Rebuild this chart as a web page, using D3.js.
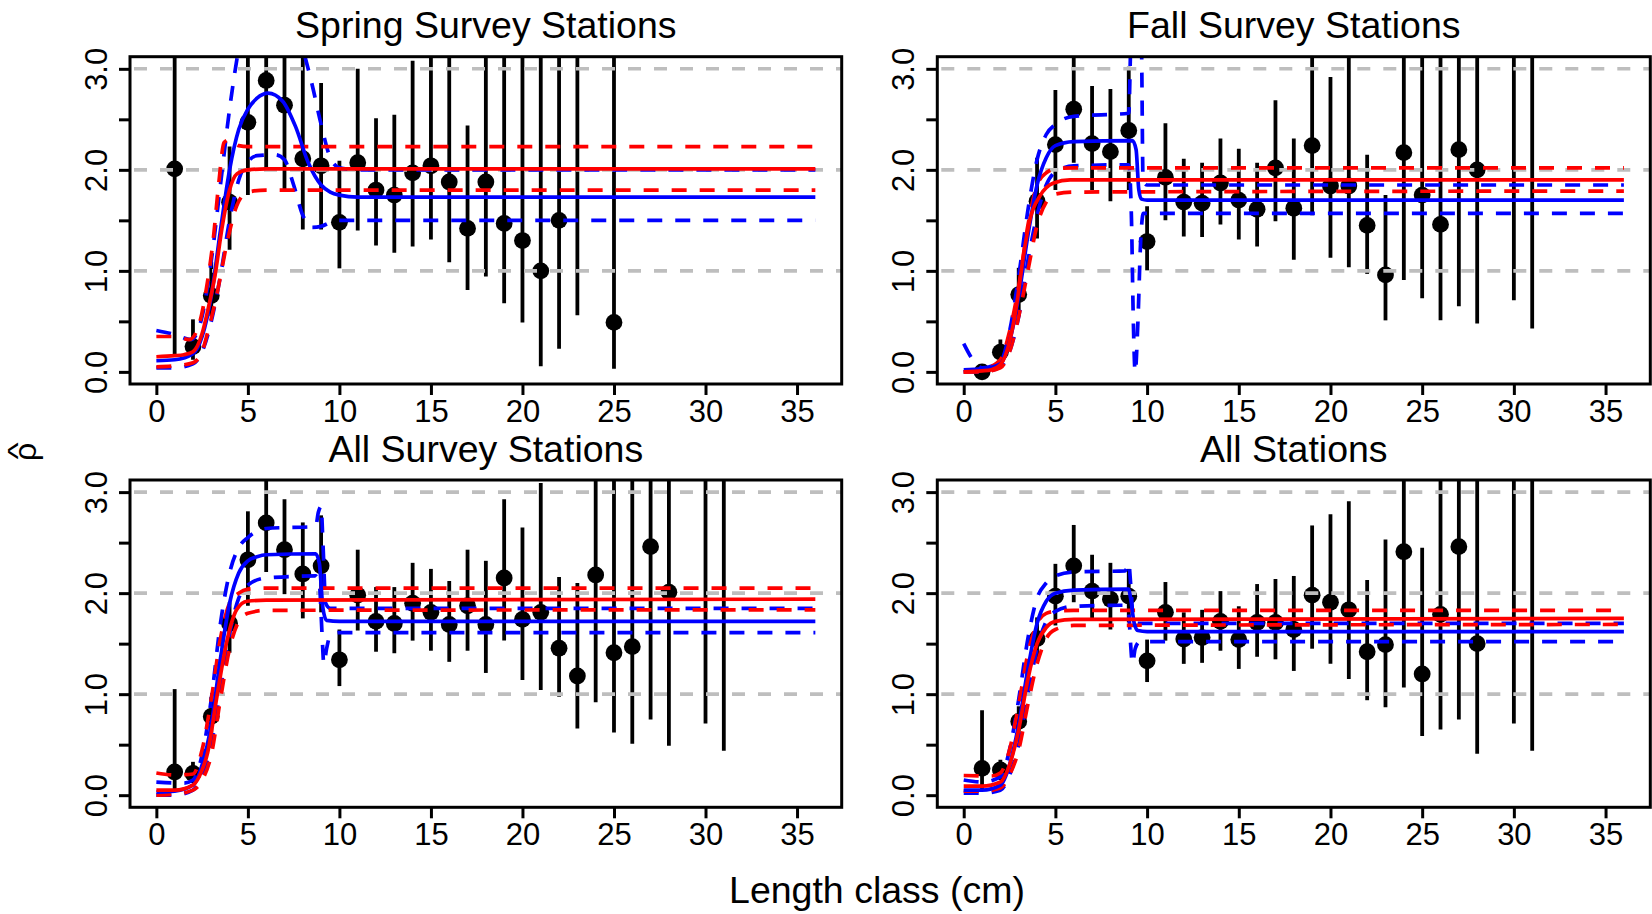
<!DOCTYPE html>
<html><head><meta charset="utf-8">
<script src="https://cdnjs.cloudflare.com/ajax/libs/d3/7.8.5/d3.min.js"></script>
<style>
body{margin:0;background:#fff}
text{font-family:"Liberation Sans",Arial,Helvetica,sans-serif;fill:#000}
</style>
</head><body>
<svg id="chart" width="1652" height="914"></svg>
<script>
// ---------------- DATA ----------------
const panelTitles = ["Spring Survey Stations", "Fall Survey Stations", "All Survey Stations", "All Stations"];
const xTickValues = [0, 5, 10, 15, 20, 25, 30, 35];
const yTickValues = [0, 0.5, 1, 1.5, 2, 2.5, 3];
const yTickLabels = ["0.0", "", "1.0", "", "2.0", "", "3.0"];
const gridValues = [1, 2, 3];
const xLabel = "Length class (cm)";
const yLabel = "ρ";
const yLabelHat = "^";

// Spring survey stations: length class, estimate, lower CI, upper CI
const springClass = [1,2,3,4,5,6,7,8,9,10,11,12,13,14,15,16,17,18,19,20,21,22,23,25];
const springRho   = [2.01,0.25,0.755,1.68,2.47,2.885,2.64,2.11,2.04,1.48,2.07,1.80,1.75,1.97,2.04,1.88,1.42,1.88,1.47,1.30,1.00,1.50,3.40,0.49];
const springLo    = [0.17,0.12,0.55,1.21,1.75,2.0,1.81,1.41,1.41,1.025,1.40,1.25,1.18,1.24,1.31,1.085,0.81,0.945,0.68,0.49,0.056,0.23,0.56,0.03];
const springHi    = [3.6,0.52,1.09,2.23,3.6,3.6,3.6,3.6,2.86,2.09,3.0,2.51,2.545,3.08,3.6,3.6,2.44,3.6,3.6,3.6,3.6,3.6,3.6,3.6];

// Fall survey stations
const fallClass = [1,2,3,4,5,6,7,8,9,10,11,12,13,14,15,16,17,18,19,20,21,22,23,24,25,26,27,28,30,31];
const fallRho   = [0.0,0.195,0.765,1.69,2.25,2.60,2.26,2.18,2.39,1.29,1.925,1.68,1.67,1.87,1.70,1.61,2.02,1.62,2.24,1.84,1.84,1.45,0.96,2.17,1.75,1.46,2.20,2.00,3.40,3.40];
const fallLo    = [0.0,0.08,0.55,1.32,1.80,2.07,1.80,1.69,1.80,1.005,1.50,1.34,1.335,1.46,1.31,1.24,1.49,1.11,1.55,1.13,1.035,0.97,0.51,0.91,0.73,0.51,0.65,0.48,0.71,0.43];
const fallHi    = [0.03,0.32,1.03,2.12,2.79,3.6,2.83,2.80,3.02,1.64,2.46,2.11,2.07,2.31,2.21,2.07,2.69,2.31,3.6,2.92,3.6,2.15,1.75,3.6,3.6,3.6,3.6,3.6,3.6,3.6];

// All survey stations
const allSurveyClass = [1,2,3,4,5,6,7,8,9,10,11,12,13,14,15,16,17,18,19,20,21,22,23,24,25,26,27,28,30,31];
const allSurveyRho   = [0.23,0.215,0.78,1.70,2.33,2.695,2.43,2.19,2.27,1.34,1.98,1.72,1.70,1.90,1.81,1.69,1.875,1.69,2.15,1.74,1.81,1.455,1.18,2.18,1.41,1.47,2.46,2.01,3.40,3.40];
const allSurveyLo    = [0.05,0.12,0.60,1.41,1.875,2.21,1.99,1.75,1.81,1.08,1.63,1.42,1.405,1.53,1.43,1.32,1.43,1.21,1.53,1.14,1.04,0.975,0.66,0.92,0.62,0.51,0.75,0.49,0.71,0.44];
const allSurveyHi    = [1.05,0.33,0.97,1.91,2.81,3.6,2.93,2.70,2.77,1.64,2.43,2.06,2.06,2.30,2.24,2.12,2.43,2.32,2.93,2.65,3.09,2.16,2.10,3.6,3.6,3.6,3.6,3.6,3.6,3.6];

// All stations
const allClass = [1,2,3,4,5,6,7,8,9,10,11,12,13,14,15,16,17,18,19,20,21,22,23,24,25,26,27,28,30,31];
const allRho   = [0.265,0.25,0.73,1.55,1.97,2.27,2.02,1.94,1.97,1.33,1.81,1.545,1.56,1.72,1.54,1.71,1.71,1.64,1.98,1.91,1.835,1.42,1.49,2.41,1.20,1.79,2.46,1.50,3.40,3.40];
const allLo    = [0.05,0.15,0.55,1.33,1.68,1.91,1.73,1.64,1.71,1.12,1.53,1.30,1.31,1.43,1.25,1.37,1.345,1.23,1.45,1.30,1.15,0.94,0.87,1.065,0.585,0.65,0.75,0.41,0.71,0.44];
const allHi    = [0.84,0.35,0.88,1.76,2.29,2.675,2.38,2.30,2.24,1.54,2.11,1.81,1.835,2.02,1.87,2.09,2.14,2.17,2.67,2.78,2.91,2.13,2.53,3.6,2.45,3.6,3.6,3.6,3.6,3.6];

// Fitted curves [length, rho] : blue = step model, red = logistic model
const springBlueFit = [[0,0.11],[1,0.12],[2,0.18],[2.5,0.35],[3,0.75],[3.5,1.4],[4,2.0],[4.5,2.4],[5,2.6],[5.5,2.71],[6.1,2.76],[6.9,2.68],[7.6,2.43],[8.3,2.07],[9,1.85],[9.5,1.78],[10,1.75],[11,1.73],[36,1.73]];
const springBlueUp  = [[0,0.41],[1,0.37],[1.9,0.32],[2.5,0.55],[3,1.1],[3.5,1.85],[4,2.6],[4.5,3.2],[5,3.6],[6,3.9],[7,3.8],[8,3.2],[8.5,2.85],[9,2.45],[9.5,2.12],[10,2.02],[11,2.0],[36,2.0]];
const springBlueLo  = [[0,0.04],[1,0.04],[2,0.08],[2.5,0.2],[3,0.5],[3.5,0.95],[4,1.5],[4.5,1.9],[5,2.08],[5.5,2.14],[6.5,2.15],[7,2.1],[7.5,1.85],[8,1.55],[8.5,1.43],[9,1.44],[9.5,1.48],[10,1.5],[36,1.5]];
const springRedFit  = [[0,0.15],[1,0.16],[1.5,0.17],[2,0.2],[2.5,0.38],[2.8,0.6],[3.2,0.95],[3.6,1.44],[4,1.8],[4.4,1.96],[5,2.0],[6,2.01],[36,2.01]];
const springRedUp   = [[0,0.35],[1,0.35],[1.8,0.32],[2.3,0.45],[2.8,0.9],[3.1,1.3],[3.4,1.85],[3.7,2.27],[4,2.3],[4.5,2.24],[5,2.23],[36,2.23]];
const springRedLo   = [[0,0.05],[1,0.06],[2,0.09],[2.5,0.2],[2.8,0.39],[3.25,0.72],[3.9,1.31],[4.4,1.65],[5,1.78],[6,1.8],[36,1.8]];

const fallBlueFit = [[0,0.02],[1,0.03],[2,0.08],[2.5,0.3],[3,0.75],[3.5,1.35],[4,1.85],[4.5,2.12],[5,2.24],[6,2.28],[9.2,2.29],[9.4,2.2],[9.55,1.8],[9.7,1.71],[10,1.70],[36,1.70]];
const fallBlueUp  = [[0,0.28],[0.5,0.12],[1,0.04],[2,0.1],[2.5,0.4],[3,0.95],[3.5,1.6],[4,2.1],[4.5,2.35],[5,2.45],[6,2.53],[9,2.56],[9.1,3.2],[9.3,4.5],[9.5,4.5],[9.7,3.2],[9.78,1.9],[10,1.85],[36,1.85]];
const fallBlueLo  = [[0,0.0],[1,0.0],[2,0.05],[2.5,0.2],[3,0.55],[3.5,1.1],[4,1.55],[4.5,1.85],[5,1.98],[6,2.04],[9,2.05],[9.15,1.5],[9.25,0.5],[9.35,0.0],[9.5,0.5],[9.65,1.3],[9.8,1.57],[36,1.57]];
const fallRedFit  = [[0,0.0],[1,0.01],[1.5,0.02],[2,0.07],[2.5,0.3],[2.9,0.68],[3.25,1.14],[3.6,1.5],[4.15,1.74],[4.9,1.87],[5.8,1.9],[36,1.9]];
const fallRedUp   = [[0,0.0],[1,0.02],[2,0.12],[2.5,0.4],[3,0.85],[3.5,1.45],[4,1.85],[4.5,1.97],[5,2.01],[6,2.02],[36,2.02]];
const fallRedLo   = [[0,0.0],[1,0.0],[2,0.04],[2.5,0.2],[3,0.55],[3.5,1.0],[4,1.45],[4.5,1.68],[5,1.76],[6,1.78],[36,1.79]];

const allSurveyBlueFit = [[0,0.03],[1,0.04],[2,0.1],[2.5,0.3],[3,0.7],[3.5,1.35],[4,1.9],[4.5,2.2],[5,2.32],[5.5,2.36],[6,2.38],[8.7,2.39],[8.9,2.3],[9.1,1.85],[9.3,1.73],[10,1.72],[36,1.72]];
const allSurveyBlueUp  = [[0,0.13],[1.5,0.12],[2,0.15],[2.5,0.4],[3,0.95],[3.5,1.7],[4,2.2],[4.5,2.45],[5,2.55],[6,2.64],[8.7,2.66],[8.85,2.8],[9.0,2.86],[9.1,2.5],[9.25,1.9],[9.5,1.85],[36,1.85]];
const allSurveyBlueLo  = [[0,0.0],[1,0.0],[2,0.05],[2.5,0.2],[3,0.5],[3.5,1.05],[4,1.6],[4.5,1.95],[5,2.08],[6,2.15],[8.7,2.17],[8.9,2.1],[9.05,1.6],[9.15,1.3],[9.3,1.45],[9.5,1.58],[10,1.61],[36,1.61]];
const allSurveyRedFit  = [[0,0.05],[1,0.05],[2,0.1],[2.5,0.25],[2.8,0.42],[3.33,1.0],[3.87,1.54],[4.4,1.84],[4.96,1.92],[6,1.93],[36,1.94]];
const allSurveyRedUp   = [[0,0.22],[1,0.2],[2,0.21],[2.5,0.45],[3,0.95],[3.5,1.55],[4,1.9],[4.5,2.0],[5,2.04],[6,2.05],[36,2.05]];
const allSurveyRedLo   = [[0,0.0],[1,0.01],[2,0.05],[2.5,0.15],[3,0.4],[3.5,0.95],[4,1.45],[4.5,1.72],[5,1.8],[6,1.83],[36,1.835]];

const allBlueFit = [[0,0.05],[1,0.05],[2,0.1],[2.5,0.3],[3,0.7],[3.5,1.25],[4,1.7],[4.5,1.92],[5,2.0],[6,2.03],[9,2.04],[9.1,1.95],[9.3,1.7],[9.5,1.63],[10,1.62],[36,1.62]];
const allBlueUp  = [[0,0.15],[1,0.13],[2,0.18],[2.5,0.45],[3,0.95],[3.5,1.55],[4,1.95],[4.5,2.1],[5,2.17],[6,2.21],[8.8,2.22],[9.0,2.3],[9.1,2.1],[9.25,1.75],[9.5,1.7],[36,1.70]];
const allBlueLo  = [[0,0.02],[1,0.02],[2,0.05],[2.5,0.2],[3,0.5],[3.5,1.0],[4,1.45],[4.5,1.72],[5,1.82],[6,1.87],[8.8,1.88],[9.0,1.8],[9.1,1.5],[9.2,1.3],[9.35,1.45],[9.6,1.52],[36,1.52]];
const allRedFit  = [[0,0.09],[1,0.09],[2,0.13],[2.5,0.3],[3,0.65],[3.5,1.15],[4,1.5],[4.5,1.66],[5,1.72],[6,1.74],[36,1.75]];
const allRedUp   = [[0,0.195],[1.5,0.19],[2,0.22],[2.5,0.45],[3,0.9],[3.5,1.4],[4,1.7],[4.5,1.8],[5,1.82],[6,1.83],[36,1.83]];
const allRedLo   = [[0,0.04],[1,0.04],[2,0.07],[2.5,0.2],[3,0.45],[3.5,0.9],[4,1.3],[4.5,1.55],[5,1.64],[6,1.68],[36,1.69]];

// ---------------- ASSEMBLY ----------------
function pts(cls, rho, lo, hi){ return cls.map((c,i)=>({x:c, y:rho[i], lo:lo[i], hi:hi[i]})); }
const panels = [
  {title: panelTitles[0], points: pts(springClass, springRho, springLo, springHi),
   curves: {blueFit: springBlueFit, blueUp: springBlueUp, blueLo: springBlueLo, redFit: springRedFit, redUp: springRedUp, redLo: springRedLo}},
  {title: panelTitles[1], points: pts(fallClass, fallRho, fallLo, fallHi),
   curves: {blueFit: fallBlueFit, blueUp: fallBlueUp, blueLo: fallBlueLo, redFit: fallRedFit, redUp: fallRedUp, redLo: fallRedLo}},
  {title: panelTitles[2], points: pts(allSurveyClass, allSurveyRho, allSurveyLo, allSurveyHi),
   curves: {blueFit: allSurveyBlueFit, blueUp: allSurveyBlueUp, blueLo: allSurveyBlueLo, redFit: allSurveyRedFit, redUp: allSurveyRedUp, redLo: allSurveyRedLo}},
  {title: panelTitles[3], points: pts(allClass, allRho, allLo, allHi),
   curves: {blueFit: allBlueFit, blueUp: allBlueUp, blueLo: allBlueLo, redFit: allRedFit, redUp: allRedUp, redLo: allRedLo}}
];

// ---------------- LAYOUT ----------------
const cols = [{x0:130, x1:841.7}, {x0:937.3, x1:1650.3}];
const rows = [{y0:56.7, y1:384}, {y0:480, y1:807.3}];
const xDomain = [-1.44, 37.44];
const yDomain = [-0.12, 3.12];
const tickFont = 31, titleFont = 37.5, labFont = 37.5;
const BLUE = "#0000FF", RED = "#FF0000", GRAY = "#BEBEBE";

const svg = d3.select("#chart");
const defs = svg.append("defs");

panels.forEach((p, i) => {
  const c = cols[i % 2], r = rows[Math.floor(i / 2)];
  const x = d3.scaleLinear().domain(xDomain).range([c.x0, c.x1]);
  const y = d3.scaleLinear().domain(yDomain).range([r.y1, r.y0]);
  const g = svg.append("g");
  const cid = "clip" + i;
  defs.append("clipPath").attr("id", cid).append("rect")
    .attr("x", c.x0).attr("y", r.y0).attr("width", c.x1 - c.x0).attr("height", r.y1 - r.y0);
  const inner = g.append("g").attr("clip-path", `url(#${cid})`);

  // error bars
  inner.selectAll(".bar").data(p.points).join("line")
    .attr("x1", d => x(d.x)).attr("x2", d => x(d.x))
    .attr("y1", d => y(d.lo)).attr("y2", d => y(d.hi))
    .attr("stroke", "#000").attr("stroke-width", 3.8);
  // points
  inner.selectAll(".pt").data(p.points).join("circle")
    .attr("cx", d => x(d.x)).attr("cy", d => y(d.y)).attr("r", 8.4).attr("fill", "#000");
  // grid
  inner.selectAll(".grid").data(gridValues).join("line")
    .attr("x1", c.x0).attr("x2", c.x1).attr("y1", d => y(d)).attr("y2", d => y(d))
    .attr("stroke", GRAY).attr("stroke-width", 3.6).attr("stroke-dasharray", "13,13")
    .attr("stroke-dashoffset", -4);
  // curves
  const line = d3.line().x(d => x(d[0])).y(d => y(d[1])).curve(d3.curveMonotoneX);
  const specs = [
    ["blueUp", BLUE, true], ["blueLo", BLUE, true], ["redUp", RED, true], ["redLo", RED, true],
    ["blueFit", BLUE, false], ["redFit", RED, false]
  ];
  specs.forEach(([k, col, dashed]) => {
    inner.append("path").attr("d", line(p.curves[k])).attr("fill", "none")
      .attr("stroke", col).attr("stroke-width", 3.7)
      .attr("stroke-dasharray", dashed ? "15,13" : null);
  });

  // box
  g.append("rect").attr("x", c.x0).attr("y", r.y0).attr("width", c.x1 - c.x0).attr("height", r.y1 - r.y0)
    .attr("fill", "none").attr("stroke", "#000").attr("stroke-width", 3);

  // x axis
  const xa = g.append("g").attr("transform", `translate(0,${r.y1})`)
    .call(d3.axisBottom(x).tickValues(xTickValues).tickSize(11).tickFormat(d3.format("d")));
  xa.select(".domain").remove();
  xa.selectAll(".tick line").attr("stroke", "#000").attr("stroke-width", 3);
  xa.selectAll(".tick text").attr("y", 38).attr("dy", 0).attr("font-size", tickFont)
    .attr("font-family", "Liberation Sans, Arial, sans-serif").attr("fill", "#000");

  // y axis
  const ya = g.append("g").attr("transform", `translate(${c.x0},0)`)
    .call(d3.axisLeft(y).tickValues(yTickValues).tickSize(11).tickFormat((d, j) => yTickLabels[j]));
  ya.select(".domain").remove();
  ya.selectAll(".tick line").attr("stroke", "#000").attr("stroke-width", 3);
  ya.selectAll(".tick text").attr("x", 0).attr("y", 0).attr("dy", 0)
    .attr("text-anchor", "middle").attr("transform", "translate(-23,0) rotate(-90)")
    .attr("font-size", tickFont).attr("font-family", "Liberation Sans, Arial, sans-serif").attr("fill", "#000");

  // title
  g.append("text").attr("x", (c.x0 + c.x1) / 2).attr("y", r.y0 - 18.5)
    .attr("text-anchor", "middle").attr("font-size", titleFont).text(p.title);
});

// axis labels
svg.append("text").attr("x", 877).attr("y", 903).attr("text-anchor", "middle")
  .attr("font-size", labFont).text(xLabel);
const yl = svg.append("g").attr("transform", "translate(36,452) rotate(-90)");
yl.append("text").attr("x", 0).attr("y", 0).attr("text-anchor", "middle").attr("font-size", 32).text(yLabel);
yl.append("text").attr("x", 0).attr("y", 0).attr("text-anchor", "middle").attr("font-size", 28)
  .attr("transform", "translate(1,-9) scale(1.3,1)").text(yLabelHat);
</script>
</body></html>
